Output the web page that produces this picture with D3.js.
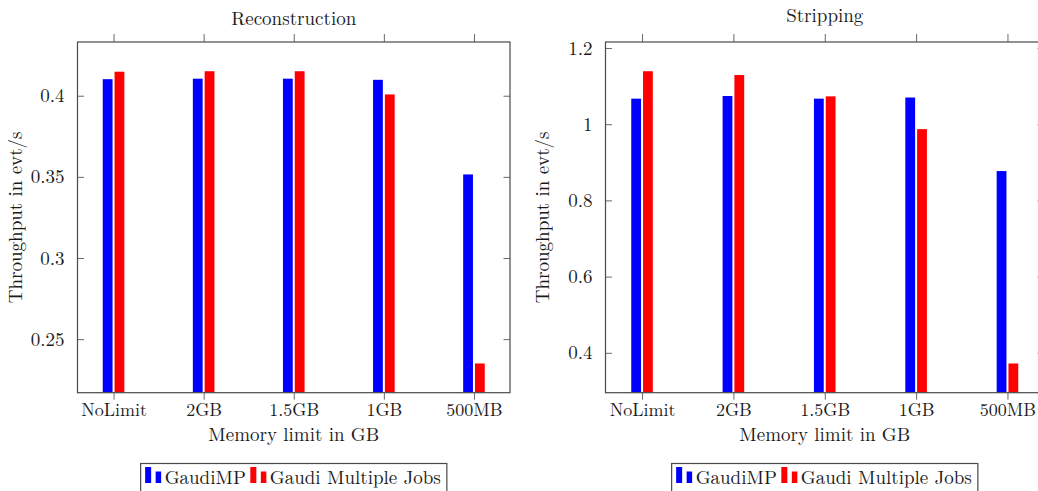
<!DOCTYPE html>
<html>
<head>
<meta charset="utf-8">
<script src="https://cdn.jsdelivr.net/npm/d3@7"></script>
<style>
  body { margin: 0; background: #fff; }
  svg text { font-family: "Latin Modern Roman", "CMU Serif", "Liberation Serif", "Times New Roman", serif; fill: #1a1a1a; }
</style>
</head>
<body>
<svg id="chart" width="1038" height="491"></svg>
<script>
// Memory limit categories and the two ways of running the jobs
const categories = ["NoLimit", "2GB", "1.5GB", "1GB", "500MB"];
const seriesNames = ["GaudiMP", "Gaudi Multiple Jobs"];
const seriesColors = ["#0000ff", "#ff0000"];

// Throughput (evt/s) for the reconstruction step
const reconGaudiMP    = [0.4102, 0.4105, 0.4105, 0.4098, 0.3515];
const reconMultiJobs  = [0.4148, 0.4151, 0.4151, 0.4008, 0.2350];

// Throughput (evt/s) for the stripping step
const strippingGaudiMP   = [1.067, 1.074, 1.067, 1.070, 0.877];
const strippingMultiJobs = [1.139, 1.129, 1.073, 0.987, 0.372];

// y tick values and their labels
const reconTicks = [0.25, 0.3, 0.35, 0.4];
const reconTickLabels = ["0.25", "0.3", "0.35", "0.4"];
const strippingTicks = [0.4, 0.6, 0.8, 1, 1.2];
const strippingTickLabels = ["0.4", "0.6", "0.8", "1", "1.2"];

const svg = d3.select("#chart");
const FONT = 19;
const XTICK_FONT = 18;
const frameColor = "#4a4a4a";
const tickColor = "#6a6a6a";

function drawPanel(cfg, idx) {
  const g = svg.append("g");
  const { left, right, top, bottom } = cfg;

  // x: one slot per memory limit, 10% enlarged limits on both sides
  const x = d3.scalePoint().domain(categories).range([left, right]).padding(0.4);

  // y: data extent enlarged by 10% of the range on each side
  const all = cfg.series.flat();
  const lo = d3.min(all), hi = d3.max(all), pad = (hi - lo) * 0.1;
  const y = d3.scaleLinear().domain([lo - pad, hi + pad]).range([bottom, top]);

  const clipId = "clip" + idx;
  svg.append("clipPath").attr("id", clipId)
    .append("rect").attr("x", left).attr("y", top)
    .attr("width", right - left).attr("height", bottom - top);

  // bars
  const bw = 9.8, gap = 2;
  const barsG = g.append("g").attr("clip-path", `url(#${clipId})`);
  cfg.series.forEach((vals, s) => {
    barsG.selectAll(null).data(vals).enter().append("rect")
      .attr("x", (d, i) => s === 0 ? x(categories[i]) - gap / 2 - bw : x(categories[i]) + gap / 2)
      .attr("y", d => y(d))
      .attr("width", bw)
      .attr("height", d => bottom - y(d))
      .attr("fill", seriesColors[s]);
  });

  // x ticks: outside at bottom and top
  const xb = g.append("g").attr("transform", `translate(0,${bottom})`)
    .call(d3.axisBottom(x).tickSize(7).tickPadding(4).tickSizeOuter(0));
  const xt = g.append("g").attr("transform", `translate(0,${top})`)
    .call(d3.axisTop(x).tickSize(8).tickFormat("").tickSizeOuter(0));
  [xb, xt].forEach(a => {
    a.select(".domain").remove();
    a.selectAll(".tick line").attr("stroke", tickColor).attr("stroke-width", 1);
  });
  xb.selectAll(".tick text").attr("font-size", XTICK_FONT).attr("dy", "0.71em");

  // y ticks: inside on left and right
  const yl = g.append("g").attr("transform", `translate(${left},0)`)
    .call(d3.axisLeft(y).tickValues(cfg.ticks).tickFormat((d, i) => cfg.tickLabels[i])
      .tickSize(-6.5).tickPadding(13).tickSizeOuter(0));
  const yr = g.append("g").attr("transform", `translate(${right},0)`)
    .call(d3.axisRight(y).tickValues(cfg.ticks).tickFormat("").tickSize(-6.5).tickSizeOuter(0));
  [yl, yr].forEach(a => {
    a.select(".domain").remove();
    a.selectAll(".tick line").attr("stroke", tickColor).attr("stroke-width", 1);
  });
  yl.selectAll(".tick text").attr("font-size", FONT).attr("dy", "0.32em");
  g.selectAll(".tick text").style("fill", "#1a1a1a");
  g.selectAll("g").attr("font-family", null);

  // frame
  g.append("rect").attr("x", left).attr("y", top)
    .attr("width", right - left).attr("height", bottom - top)
    .attr("fill", "none").attr("stroke", frameColor).attr("stroke-width", 1.2);

  // title
  g.append("text").attr("x", (left + right) / 2).attr("y", cfg.titleY)
    .attr("text-anchor", "middle").attr("font-size", FONT).text(cfg.title);

  // axis labels
  g.append("text").attr("x", (left + right) / 2).attr("y", 441)
    .attr("text-anchor", "middle").attr("font-size", FONT).text("Memory limit in GB");
  g.append("text")
    .attr("transform", `translate(${cfg.ylabelX},${(top + bottom) / 2}) rotate(-90)`)
    .attr("text-anchor", "middle").attr("font-size", FONT).text("Throughput in evt/s");

  // legend below the plot
  const lg = g.append("g");
  let cx = 0;
  seriesNames.forEach((name, s) => {
    const ig = lg.append("g").attr("transform", `translate(${cx},0)`);
    ig.append("rect").attr("x", 4.5).attr("y", 3.5).attr("width", 6).attr("height", 16).attr("fill", seriesColors[s]);
    ig.append("rect").attr("x", 15).attr("y", 8).attr("width", 5.5).attr("height", 11.5).attr("fill", seriesColors[s]);
    const t = ig.append("text").attr("x", 24).attr("y", 20).attr("font-size", FONT).text(name);
    cx += 24 + t.node().getComputedTextLength();
  });
  const boxW = cx + 6;
  const bx = (left + right) / 2 - boxW / 2;
  lg.attr("transform", `translate(${bx},463.5)`);
  lg.insert("rect", ":first-child").attr("x", 0).attr("y", 0)
    .attr("width", boxW).attr("height", 40)
    .attr("fill", "#fff").attr("stroke", frameColor).attr("stroke-width", 1.2);
}

drawPanel({
  left: 77.5, right: 510, top: 42, bottom: 392.7,
  title: "Reconstruction", titleY: 25.3, ylabelX: 22,
  series: [reconGaudiMP, reconMultiJobs],
  ticks: reconTicks, tickLabels: reconTickLabels
}, 0);

drawPanel({
  left: 605.5, right: 1044, top: 42, bottom: 392.7,
  title: "Stripping", titleY: 22, ylabelX: 549,
  series: [strippingGaudiMP, strippingMultiJobs],
  ticks: strippingTicks, tickLabels: strippingTickLabels
}, 1);
</script>
</body>
</html>
